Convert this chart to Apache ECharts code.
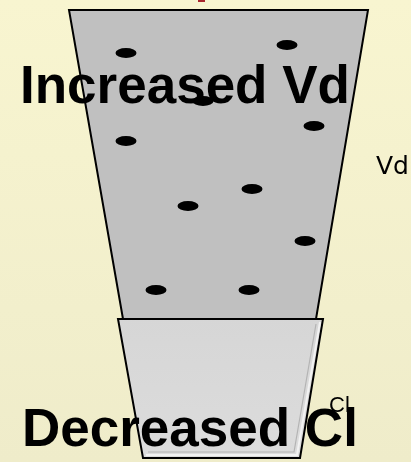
<!DOCTYPE html>
<html>
<head>
<meta charset="utf-8">
<script src="https://cdn.jsdelivr.net/npm/echarts@6/dist/echarts.min.js"></script>
<style>html,body{margin:0;padding:0;}#c{width:411px;height:462px;}</style>
</head>
<body>
<div id="c"></div>
<script>
// Dot positions (diagram units = page px)
const dotX = [126, 287, 203, 314, 126, 252, 188, 305, 156, 249];
const dotY = [53, 45, 101, 126, 141, 189, 206, 241, 290, 290];
// Upper (Vd) trapezoid vertices
const upperX = [69, 368, 316, 123];
const upperY = [10, 10, 319, 319];
// Lower (Cl) trapezoid vertices
const lowerX = [118, 323, 300, 143];
const lowerY = [319, 319, 458, 458];
// Bevel lines inside the lower trapezoid
const bevelLightX = [320, 297, 146];
const bevelLightY = [322, 455, 455];
const bevelDarkX = [316, 294, 148];
const bevelDarkY = [324, 452, 452];
// Labels
const bigLabels = ['Increased Vd', 'Decreased Cl'];
const smallLabels = ['Vd', 'Cl'];

const chart = echarts.init(document.getElementById('c'), null, {renderer: 'canvas'});

function poly(api, xs, ys) {
  return xs.map((x, i) => api.coord([x, ys[i]]));
}

const option = {
  animation: false,
  backgroundColor: {
    type: 'linear', x: 0, y: 0, x2: 0, y2: 1,
    colorStops: [{offset: 0, color: '#f8f5d0'}, {offset: 1, color: '#efecca'}]
  },
  grid: {left: 0, right: 0, top: 0, bottom: 0},
  xAxis: {type: 'value', min: 0, max: 411, show: false},
  yAxis: {type: 'value', min: 0, max: 462, inverse: true, show: false},
  series: [
    {
      type: 'custom', z: 1, silent: true,
      data: [[0]],
      renderItem: function (params, api) {
        return {
          type: 'polygon',
          shape: {points: poly(api, upperX, upperY)},
          style: {fill: '#c0c0c0', stroke: '#000', lineWidth: 2}
        };
      }
    },
    {
      type: 'scatter', z: 2, silent: true,
      symbol: 'path://M0 5A10 5 0 1 0 20 5A10 5 0 1 0 0 5Z',
      symbolSize: [21, 10],
      itemStyle: {color: '#000', opacity: 1},
      data: dotX.map((x, i) => [x, dotY[i]])
    },
    {
      type: 'custom', z: 3, silent: true,
      data: [[0]],
      renderItem: function (params, api) {
        return {
          type: 'group',
          children: [
            {
              type: 'polygon',
              shape: {points: poly(api, lowerX, lowerY)},
              style: {
                fill: {
                  type: 'linear', x: 0, y: 0, x2: 0, y2: 1,
                  colorStops: [{offset: 0, color: '#d6d6d6'}, {offset: 1, color: '#dcdcdc'}]
                },
                stroke: '#000', lineWidth: 2
              }
            },
            {
              type: 'polyline',
              shape: {points: poly(api, bevelDarkX, bevelDarkY)},
              style: {fill: null, stroke: '#b4b4b4', lineWidth: 1.2}
            },
            {
              type: 'polyline',
              shape: {points: poly(api, bevelLightX, bevelLightY)},
              style: {fill: null, stroke: '#f2f2f2', lineWidth: 2}
            }
          ]
        };
      }
    }
  ],
  graphic: [
    {
      type: 'rect', z: 100, silent: true,
      shape: {x: 198, y: 0, width: 7, height: 2},
      style: {fill: '#a8262c'}
    },
    {
      type: 'text', z: 100, silent: true,
      style: {x: 376, y: 167, text: smallLabels[0], fill: '#000',
        font: '25px "DejaVu Sans"', verticalAlign: 'middle', align: 'left'}
    },
    {
      type: 'text', z: 100, silent: true,
      style: {x: 329, y: 406, text: smallLabels[1], fill: '#000',
        font: '22px "Liberation Sans"', verticalAlign: 'middle', align: 'left'}
    },
    {
      type: 'text', z: 101, silent: true,
      style: {x: 20, y: 88, text: bigLabels[0], fill: '#000',
        font: 'bold 53px "Liberation Sans"', verticalAlign: 'middle', align: 'left'}
    },
    {
      type: 'text', z: 101, silent: true,
      style: {x: 22, y: 431, text: bigLabels[1], fill: '#000',
        font: 'bold 53px "Liberation Sans"', verticalAlign: 'middle', align: 'left'}
    }
  ]
};
chart.setOption(option);
</script>
</body>
</html>
